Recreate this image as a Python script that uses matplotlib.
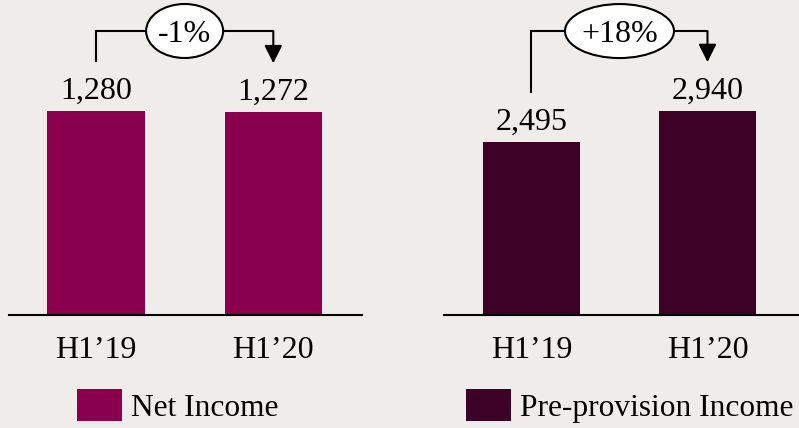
import matplotlib
matplotlib.use('Agg')
import matplotlib.pyplot as plt
from matplotlib.patches import Ellipse
from matplotlib import transforms

# half-year figures per metric
periods = ['H1’19', 'H1’20']
net_income = [1280, 1272]
pre_provision_income = [2495, 2940]
series_names = ['Net Income', 'Pre-provision Income']

bg = '#F0ECE9'
fs = 23
plt.rcParams['font.family'] = ['Liberation Serif', 'DejaVu Serif']

W, H = 799, 428
fig = plt.figure(figsize=(W / 100, H / 100), dpi=100, facecolor=bg)

panels = [
    dict(values=net_income, name=series_names[0], color='#8A004F',
         rect=[9 / W, 113 / H, 353 / W, 315 / H], xlim=(-0.49, 1.5),
         ytop=1976.5, ellipse_w=0.77, legend_x=77 / W),
    dict(values=pre_provision_income, name=series_names[1], color='#3D0027',
         rect=[444 / W, 113 / H, 355 / W, 315 / H], xlim=(-0.497, 1.52),
         ytop=4541, ellipse_w=1.09, legend_x=466 / W),
]

for p in panels:
    vals = p['values']
    ax = fig.add_axes(p['rect'])
    ax.patch.set_visible(False)
    x = list(range(len(periods)))
    bars = ax.bar(x, vals, width=0.55, color=p['color'])
    ax.set_xlim(*p['xlim'])
    ax.set_ylim(0, p['ytop'])
    ax.autoscale(False)

    for s in ('top', 'left', 'right'):
        ax.spines[s].set_visible(False)
    ax.spines['bottom'].set_linewidth(1.5)
    ax.spines['bottom'].set_color('black')
    ax.set_yticks([])
    ax.set_xticks(x, periods)
    ax.tick_params(axis='x', length=0, pad=15, labelsize=fs)

    for xi, v in zip(x, vals):
        ax.annotate(f'{v:,}', (xi, v), xytext=(0, 4), textcoords='offset points',
                    ha='center', va='bottom', fontsize=fs)

    # growth bracket between the two bars
    px = p['ytop'] / 315
    y_left = vals[0] + 49 * px
    y_top = max(vals) + 80 * px
    y_tip = vals[1] + 49 * px
    ax.plot([x[0], x[0], x[1]], [y_left, y_top, y_top], color='black', lw=1.5,
            clip_on=False, solid_joinstyle='miter', solid_capstyle='butt')
    ax.annotate('', xy=(x[1], y_tip), xytext=(x[1], y_top),
                arrowprops=dict(arrowstyle='-|>,head_length=0.4,head_width=0.2',
                                mutation_scale=27, color='black', lw=1.5,
                                shrinkA=0, shrinkB=0),
                annotation_clip=False)

    growth = (vals[1] / vals[0] - 1) * 100
    mid = (x[0] + x[1]) / 2
    trans = fig.dpi_scale_trans + transforms.ScaledTranslation(mid, y_top, ax.transData)
    ax.add_patch(Ellipse((0, 0), p['ellipse_w'], 0.54, transform=trans,
                         facecolor='white', edgecolor='black', lw=1.5,
                         zorder=5, clip_on=False))
    ax.annotate(f'{growth:+.0f}%', (mid, y_top), xytext=(0, -7.8),
                textcoords='offset points', ha='center', va='baseline',
                fontsize=fs, zorder=6, annotation_clip=False)

    ax.legend([bars], [p['name']], loc='center left',
              bbox_to_anchor=(p['legend_x'], 1 - 406 / H),
              bbox_transform=fig.transFigure, frameon=False, fontsize=22.6,
              handlelength=1.42, handleheight=1.2, handletextpad=0.3,
              borderpad=0, borderaxespad=0)

fig.savefig('out.png', dpi=100, facecolor=bg)
